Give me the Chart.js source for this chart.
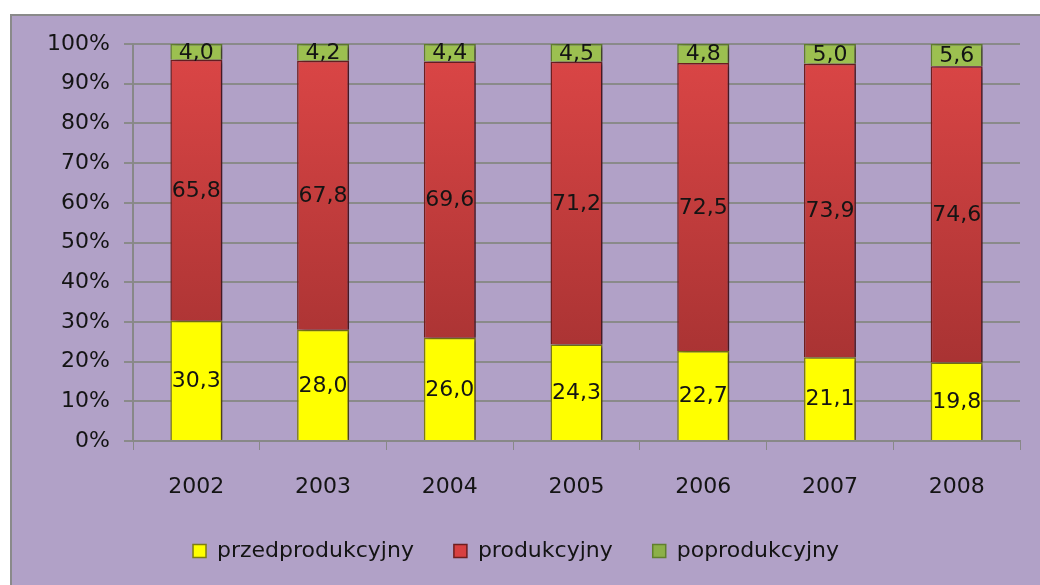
<!DOCTYPE html>
<html>
<head>
<meta charset="utf-8">
<script src="https://cdn.jsdelivr.net/npm/chart.js@4"></script>
<style>
  html, body { margin: 0; padding: 0; background: #fff; overflow: hidden; }
  #frame {
    position: absolute; left: 10px; top: 14px;
    width: 1040px; height: 580px;
    border: 2px solid #8a8a8a;
    background: #b1a1c7;
  }
  #chart { display: block; }
</style>
</head>
<body>
<div id="frame"><canvas id="chart" width="1028" height="569"></canvas></div>
<script>
// data
const years = ['2002', '2003', '2004', '2005', '2006', '2007', '2008'];
const przed = [30.3, 28.0, 26.0, 24.3, 22.7, 21.1, 19.8];
const prod = [65.8, 67.8, 69.6, 71.2, 72.5, 73.9, 74.6];
const po = [4.0, 4.2, 4.4, 4.5, 4.8, 5.0, 5.6];
const yTicks = [0, 10, 20, 30, 40, 50, 60, 70, 80, 90, 100];

const FONT = 'DejaVu Sans';

// shares of 100% like a percent-stacked column
const totals = years.map((y, i) => przed[i] + prod[i] + po[i]);
const share = arr => arr.map((v, i) => v / totals[i] * 100);

// vertical gradient over the plot area
function grad(top, bottom) {
  return function (ctx) {
    const area = ctx.chart.chartArea;
    if (!area) return top;
    const g = ctx.chart.ctx.createLinearGradient(0, area.top, 0, area.bottom);
    g.addColorStop(0, top);
    g.addColorStop(1, bottom);
    return g;
  };
}

// soft shadow to the right of the bars, then value labels inside
const labelPlugin = {
  id: 'barLabels',
  beforeDatasetsDraw(chart) {
    const c = chart.ctx;
    c.save();
    c.shadowColor = 'rgba(40,20,40,0.6)';
    c.shadowOffsetX = 4;
    c.shadowOffsetY = 1;
    c.shadowBlur = 4;
  },
  afterDatasetsDraw(chart) {
    const c = chart.ctx;
    c.restore();
    c.save();
    c.font = '22px "' + FONT + '"';
    c.fillStyle = '#141414';
    c.textAlign = 'center';
    c.textBaseline = 'middle';
    chart.data.datasets.forEach((ds, di) => {
      const meta = chart.getDatasetMeta(di);
      meta.data.forEach((bar, i) => {
        const p = bar.getCenterPoint();
        c.fillText(ds.raw[i].toFixed(1).replace('.', ','), p.x, p.y + 1);
      });
    });
    c.restore();
  }
};

const ctx = document.getElementById('chart').getContext('2d');
const chart = new Chart(ctx, {
  type: 'bar',
  data: {
    labels: years,
    datasets: [
      {
        label: 'przedprodukcyjny',
        raw: przed,
        data: share(przed),
        backgroundColor: '#ffff00',
        borderColor: '#7d7d10',
        borderWidth: 1.5
      },
      {
        label: 'produkcyjny',
        raw: prod,
        data: share(prod),
        backgroundColor: grad('#dc4646', '#9c2e2e'),
        borderColor: '#6e1e1e',
        borderWidth: 1.5
      },
      {
        label: 'poprodukcyjny',
        raw: po,
        data: share(po),
        backgroundColor: '#9cc050',
        borderColor: '#60802c',
        borderWidth: 1.5
      }
    ]
  },
  options: {
    responsive: false,
    animation: false,
    devicePixelRatio: 1,
    layout: { padding: { top: 28, right: 20, bottom: 13, left: 0 } },
    datasets: { bar: { categoryPercentage: 1, barPercentage: 0.41 } },
    scales: {
      x: {
        stacked: true,
        grid: { display: true, drawOnChartArea: false, offset: true, color: '#888', tickLength: 9 },
        border: { color: '#888', width: 2 },
        ticks: { color: '#141414', font: { family: FONT, size: 22 }, padding: 24 },
        afterFit(scale) { scale.height = 59; }
      },
      y: {
        stacked: true,
        min: 0,
        max: 100,
        afterBuildTicks(scale) { scale.ticks = yTicks.map(v => ({ value: v })); },
        grid: { color: '#8a8a8a', lineWidth: 2, tickLength: 9 },
        border: { color: '#888', width: 2 },
        ticks: {
          color: '#141414',
          font: { family: FONT, size: 22 },
          padding: 14,
          callback: v => v + '%'
        },
        afterFit(scale) { scale.width = 121; }
      }
    },
    plugins: {
      legend: {
        position: 'bottom',
        labels: {
          color: '#141414',
          font: { family: FONT, size: 22 },
          boxWidth: 13,
          boxHeight: 13,
          padding: 40,
          generateLabels(chart) {
            const cols = ['#ffff00', '#d84040', '#8cb048'];
            return chart.data.datasets.map((ds, i) => ({
              text: ds.label,
              fillStyle: cols[i],
              strokeStyle: ds.borderColor,
              lineWidth: 1.5,
              fontColor: '#141414',
              datasetIndex: i
            }));
          }
        }
      },
      tooltip: { enabled: false }
    }
  },
  plugins: [labelPlugin]
});
</script>
</body>
</html>
